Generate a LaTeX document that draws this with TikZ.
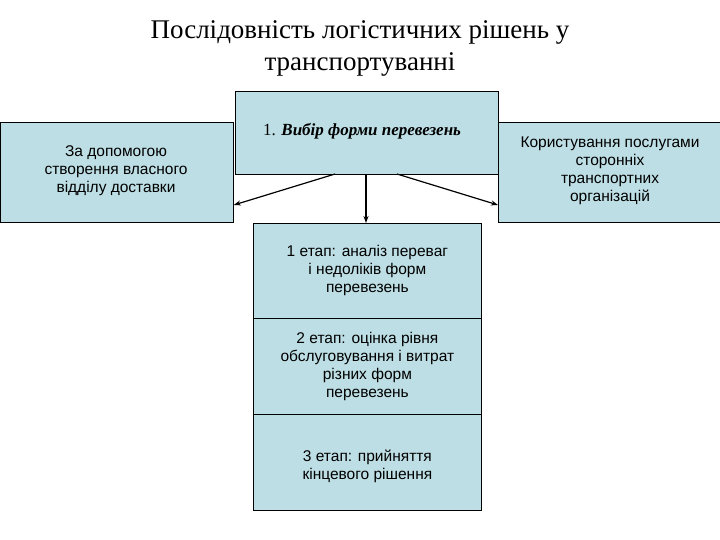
\documentclass[tikz,border=0pt]{standalone}
\usepackage{fontspec}
\usetikzlibrary{arrows.meta}
\setmainfont{Liberation Serif}
\newfontfamily\arial{Liberation Sans}
\begin{document}
\begin{tikzpicture}[x=1pt,y=-1pt,
  bx/.style={draw=black,line width=0.8pt,fill=boxc,inner sep=0pt},
  txt/.style={font=\arial\fontsize{15.5}{18}\selectfont,align=center},
  arr/.style={-{Stealth[length=7pt,width=5pt]},line width=1.2pt}]
\definecolor{boxc}{RGB}{189,222,228}
\useasboundingbox (0,0) rectangle (720,540);
\node[font=\fontsize{27}{32}\selectfont,align=center] (title) at (360,48) {Послідовність логістичних рішень у\\транспортуванні};
\node[bx,minimum width=233,minimum height=100,anchor=north west] (L) at (0,122) {};
\node[txt] (Lt) at (116,171) {За допомогою\\створення власного\\відділу доставки};
\node[bx,minimum width=222,minimum height=100,anchor=north west] (R) at (498,122) {};
\node[txt] (Rt) at (610,171) {Користування послугами\\сторонніх\\транспортних\\організацій};
\node[bx,minimum width=263,minimum height=83,anchor=north west] (C) at (235,91) {};
\node[font=\fontsize{17}{20}\selectfont] (Ct) at (362,131) {1. \textbf{\textit{Вибір форми перевезень}}};
\node[bx,minimum width=228,minimum height=95,anchor=north west] (S1) at (253,223) {};
\node[txt] at (S1.center) {1 етап: аналіз переваг\\і недоліків форм\\перевезень};
\node[bx,minimum width=228,minimum height=96,anchor=north west] (S2) at (253,318) {};
\node[txt] at (S2.center) {2 етап: оцінка рівня\\обслуговування і витрат\\різних форм\\перевезень};
\node[bx,minimum width=228,minimum height=96,anchor=north west] (S3) at (253,414) {};
\node[txt] at ([yshift=-4pt]S3.center) {3 етап: прийняття\\кінцевого рішення};
\coordinate (a1) at (335,174);
\coordinate (a2) at (366,174);
\coordinate (a3) at (397,174);
\draw[arr] (a1) -- (L.east|-0,205);
\draw[arr] (a2) -- (S1.north-|a2);
\draw[arr] (a3) -- (R.west|-0,205);
\end{tikzpicture}
\end{document}
